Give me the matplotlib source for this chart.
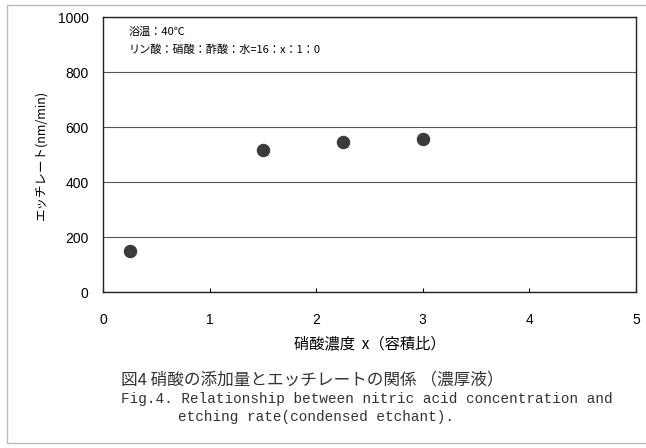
import matplotlib.pyplot as plt
from matplotlib.patches import Rectangle

# 硝酸濃度とエッチレート (濃厚液)
nitric_x = [0.25, 1.5, 2.25, 3.0]
etch_rate = [148, 518, 545, 557]
x_ticks = [0, 1, 2, 3, 4, 5]
y_ticks = [0, 200, 400, 600, 800, 1000]

jp = ['Noto Sans CJK JP', 'DejaVu Sans']
mono = ['Liberation Mono', 'DejaVu Sans Mono']
plt.rcParams['font.family'] = jp

fig = plt.figure(figsize=(6.46, 4.48), dpi=100)
fig.patch.set_facecolor('white')
ax = fig.add_axes([0.1594, 0.348, 0.825, 0.614])

ax.scatter(nitric_x, etch_rate, s=75, color='#3a3a3a', zorder=3)

ax.set_xlim(0, 5)
ax.set_ylim(0, 1000)
ax.set_xticks(x_ticks)
ax.set_yticks(y_ticks)
ax.yaxis.grid(True, color='#555555', linewidth=0.8)
ax.tick_params(axis='x', direction='in', length=3, pad=15, labelsize=10)
ax.tick_params(axis='y', length=0, pad=10.5, labelsize=10)
for lab in ax.get_xticklabels() + ax.get_yticklabels():
    lab.set_family(['Liberation Sans', 'DejaVu Sans'])
for sp in ax.spines.values():
    sp.set_linewidth(1.0)
    sp.set_color('#222222')

ax.set_ylabel('エッチレート(nm/min)', fontsize=9, labelpad=7)
ax.set_xlabel('硝酸濃度  x（容積比）', fontsize=11, labelpad=6)

ax.text(0.048, 0.965, '浴温：40℃', transform=ax.transAxes, fontsize=8, va='top')
ax.text(0.048, 0.90, 'リン酸：硝酸：酢酸：水=16：x：1：0', transform=ax.transAxes,
        fontsize=8, va='top')

# 図の説明文
fig.text(0.188, 0.152, '図4 硝酸の添加量とエッチレートの関係 （濃厚液）', fontsize=12,
         color='#333333', va='center')
fig.text(0.187, 0.109, 'Fig.4. Relationship between nitric acid concentration and',
         fontsize=10.4, family=mono, color='#333333', va='center')
fig.text(0.275, 0.069, 'etching rate(condensed etchant).', fontsize=10.4,
         family=mono, color='#333333', va='center')

# 外枠 (右端は紙面外)
fig.patches.append(Rectangle((0.011, 0.011), 1.1, 0.978, transform=fig.transFigure,
                             fill=False, edgecolor='#bbbbbb', linewidth=1.0))

fig.savefig('out.png', dpi=100)
